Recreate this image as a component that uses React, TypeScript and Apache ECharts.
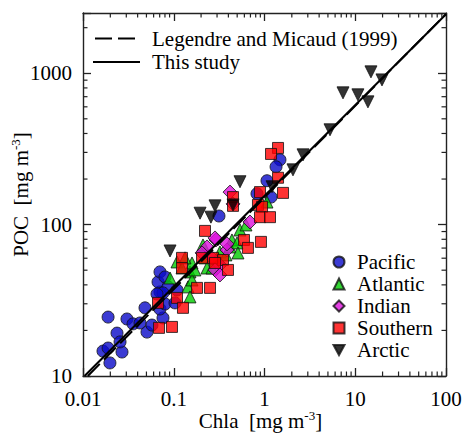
import React, { useEffect, useRef } from "react";
import * as echarts from "echarts";

// ---- data (Chla [mg m-3], POC [mg m-3]) ----
const pacific: [number, number][] = [
  [0.0189, 24.5], [0.0305, 23.8], [0.0237, 19.2], [0.0482, 28.2], [0.0356, 22.1],
  [0.0507, 19.5], [0.0425, 22.4], [0.0166, 14.6], [0.0189, 15.3], [0.0269, 14.4],
  [0.0198, 12.2], [0.0256, 16.8], [0.0575, 21.7], [0.0761, 24.2], [0.0705, 27.7],
  [0.0801, 29.9], [0.0705, 35.9], [0.0671, 41.8], [0.0705, 48.7], [0.0801, 45.1],
  [0.0864, 38.8], [0.0761, 35.4], [0.1086, 37.0], [0.1032, 30.4], [0.0654, 34.8],
  [0.315, 114], [1.48, 268], [1.34, 241], [1.065, 195], [0.826, 160], [1.18, 152],
];
const atlantic: [number, number][] = [
  [0.091, 44.4], [0.1086, 56.7], [0.1233, 51.7], [0.151, 48.7], [0.159, 55.8],
  [0.1435, 38.8], [0.151, 33.3], [0.159, 43.1], [0.221, 60.3], [0.2325, 51.7],
  [0.264, 51.7], [0.307, 60.3], [0.323, 66.0], [0.376, 63.1], [0.417, 71.2],
  [0.21, 73.4], [0.537, 92.2], [0.438, 79.2], [0.498, 75.7], [0.625, 99.5],
  [0.51, 65.0], [1.065, 141], [0.133, 60.3], [0.171, 50.2],
];
const indian: [number, number][] = [
  [0.417, 164], [0.45, 137], [0.692, 104], [0.292, 79.2], [0.2325, 71.2],
  [0.205, 65.0], [0.264, 60.3], [0.323, 54.1], [0.285, 50.2], [0.323, 46.5],
  [0.386, 68.0], [0.285, 81.7], [0.386, 74.6],
];
const southern: [number, number][] = [
  [0.0671, 30.4], [0.0956, 21.1], [0.0688, 20.8], [0.1233, 60.3], [0.1233, 51.7],
  [0.1086, 32.8], [0.1264, 28.2], [0.1805, 38.2], [0.251, 38.2], [0.205, 60.3],
  [0.271, 60.3], [0.349, 58.4], [0.221, 90.9], [0.396, 50.2], [0.285, 55.8],
  [1.41, 321], [1.18, 293], [1.41, 204], [1.6, 162], [0.892, 164],
  [0.847, 135], [0.939, 131], [0.892, 112], [1.15, 112], [0.45, 152],
  [0.45, 133], [0.594, 79.2], [0.657, 70.2], [0.914, 76.9],
];
const arctic: [number, number][] = [
  [0.091, 67], [0.195, 119], [0.257, 112], [0.285, 133], [0.45, 135],
  [0.537, 192], [1.21, 178], [2.06, 230], [2.66, 289], [5.27, 423],
  [7.33, 742], [10.7, 720], [13.8, 647], [14.9, 1021], [19.7, 904],
];

// regression lines: end points
const thisStudyLine: [number, number][] = [[0.0104, 10], [100, 2450]];
const legendreLine: [number, number][] = [[0.0113, 10], [100, 2460]];

// axes
const xRange = [0.01, 100];
const yRange = [10, 2500];
const xMinorTicks = [
  0.02, 0.03, 0.04, 0.05, 0.06, 0.07, 0.08, 0.09,
  0.2, 0.3, 0.4, 0.5, 0.6, 0.7, 0.8, 0.9,
  2, 3, 4, 5, 6, 7, 8, 9,
  20, 30, 40, 50, 60, 70, 80, 90,
];
const yMinorTicks = [20, 30, 40, 50, 60, 70, 80, 90, 200, 300, 400, 500, 600, 700, 800, 900, 2000];

const seriesNames = ["Pacific", "Atlantic", "Indian", "Southern", "Arctic"];
const lineNames = ["Legendre and Micaud (1999)", "This study"];

const FONT = "Liberation Serif";
const AX = "#222";

function isDecade(v: number) {
  const l = Math.log10(v);
  return Math.abs(l - Math.round(l)) < 1e-6;
}
function fmt(v: number) {
  return isDecade(v) ? String(+Number(v).toPrecision(3)) : "";
}

export default function App() {
  const ref = useRef<HTMLDivElement>(null);
  useEffect(() => {
    if (!ref.current) return;
    const chart = echarts.init(ref.current, undefined, { renderer: "svg" });
    const border = { borderColor: "#111", borderWidth: 1 };
    const minorData: number[][] = [
      ...xMinorTicks.map((v) => [v, 100, 0]),
      ...yMinorTicks.map((v) => [1, v, 1]),
    ];
    const baseAxis = {
      type: "log" as const,
      logBase: 10,
      axisLine: { show: true, lineStyle: { color: AX, width: 1.4 } },
      axisTick: { show: true, inside: true, length: 8, lineStyle: { color: AX, width: 1.3 } },
      splitLine: { show: false },
      minorTick: { show: false },
    };
    const labelStyle = { fontFamily: FONT, fontSize: 21, color: "#000" };
    const nameRich = {
      a: { fontFamily: FONT, fontSize: 21, color: "#000" },
      s: { fontFamily: FONT, fontSize: 13, color: "#000", verticalAlign: "top", padding: [0, 0, 10, 0] },
    };
    chart.setOption({
      animation: false,
      backgroundColor: "#fff",
      grid: { left: 83, right: 16, top: 13, bottom: 59, containLabel: false, outerBoundsMode: "none" },
      xAxis: [
        {
          ...baseAxis,
          min: xRange[0],
          max: xRange[1],
          position: "bottom",
          axisLabel: { ...labelStyle, margin: 12, formatter: fmt },
          name: "{a|Chla  [mg m}{s|-3}{a|]}",
          nameLocation: "middle",
          nameGap: 33,
          nameMoveOverlap: false,
          nameTextStyle: { rich: nameRich, padding: [0, 8, 0, 0] },
        },
        {
          ...baseAxis,
          min: xRange[0],
          max: xRange[1],
          position: "top",
          axisLabel: { show: false },
        },
      ],
      yAxis: [
        {
          ...baseAxis,
          min: yRange[0],
          max: yRange[1],
          position: "left",
          axisLabel: { ...labelStyle, margin: 11, formatter: fmt },
          name: "{a|POC  [mg m}{s|-3}{a|]}",
          nameLocation: "middle",
          nameGap: 51,
          nameMoveOverlap: false,
          nameRotate: 90,
          nameTextStyle: { rich: nameRich },
        },
        {
          ...baseAxis,
          min: yRange[0],
          max: yRange[1],
          position: "right",
          axisLabel: { show: false },
        },
      ],
      legend: [
        {
          data: [
            { name: seriesNames[0] },
            { name: seriesNames[1] },
            { name: seriesNames[2] },
            { name: seriesNames[3] },
            { name: seriesNames[4], icon: "path://M0,0L12,0L6,11Z" },
          ],
          orient: "vertical",
          left: 332.5,
          top: 251.5,
          padding: 0,
          itemWidth: 11,
          itemHeight: 11,
          itemGap: 1,
          selectedMode: false,
          textStyle: { fontFamily: FONT, fontSize: 21, color: "#000", padding: [0, 0, 0, 7.5] },
        },
      ],
      graphic: [
        {
          type: "line",
          shape: { x1: 95, y1: 38.5, x2: 139, y2: 38.5 },
          style: { stroke: "#000", lineWidth: 2, lineDash: [17, 6] },
        },
        {
          type: "line",
          shape: { x1: 93, y1: 62, x2: 140, y2: 62 },
          style: { stroke: "#000", lineWidth: 2 },
        },
        {
          type: "text",
          x: 152,
          y: 39,
          style: { text: lineNames[0], font: `21px "${FONT}"`, fill: "#000", verticalAlign: "middle" },
        },
        {
          type: "text",
          x: 152,
          y: 62,
          style: { text: lineNames[1], font: `21px "${FONT}"`, fill: "#000", verticalAlign: "middle" },
        },
      ],
      series: [
        {
          type: "custom",
          name: "minorTicks",
          silent: true,
          xAxisIndex: 0,
          yAxisIndex: 0,
          data: minorData,
          z: 5,
          renderItem: (params: any, api: any) => {
            const cs = params.coordSys;
            const kind = api.value(2);
            const L = 4.5;
            const st = { stroke: AX, lineWidth: 1.2 };
            if (kind === 0) {
              const x = api.coord([api.value(0), 100])[0];
              const yb = cs.y + cs.height;
              return {
                type: "group",
                children: [
                  { type: "line", shape: { x1: x, y1: yb, x2: x, y2: yb - L }, style: st },
                  { type: "line", shape: { x1: x, y1: cs.y, x2: x, y2: cs.y + L }, style: st },
                ],
              };
            }
            const y = api.coord([1, api.value(1)])[1];
            const xr = cs.x + cs.width;
            return {
              type: "group",
              children: [
                { type: "line", shape: { x1: cs.x, y1: y, x2: cs.x + L, y2: y }, style: st },
                { type: "line", shape: { x1: xr, y1: y, x2: xr - L, y2: y }, style: st },
              ],
            };
          },
        },
        {
          name: "Pacific",
          type: "scatter",
          data: pacific,
          symbol: "circle",
          symbolSize: 12,
          itemStyle: { color: "#0a0ac8", ...border },
        },
        {
          name: "Atlantic",
          type: "scatter",
          data: atlantic,
          symbol: "triangle",
          symbolSize: 12,
          itemStyle: { color: "#00CC00", ...border },
        },
        {
          name: "Indian",
          type: "scatter",
          data: indian,
          symbol: "diamond",
          symbolSize: 14,
          itemStyle: { color: "#DD11DD", ...border },
        },
        {
          name: "Southern",
          type: "scatter",
          data: southern,
          symbol: "rect",
          symbolSize: 11,
          itemStyle: { color: "#FF0000", ...border },
        },
        {
          name: "Arctic",
          type: "scatter",
          data: arctic,
          symbol: "triangle",
          symbolRotate: 180,
          symbolSize: 12,
          itemStyle: { color: "#000", ...border },
        },
        {
          name: lineNames[0],
          type: "line",
          data: legendreLine,
          symbol: "none",
          z: 6,
          lineStyle: { color: "#000", width: 2, type: [17, 6] },
        },
        {
          name: lineNames[1],
          type: "line",
          data: thisStudyLine,
          symbol: "none",
          z: 6,
          lineStyle: { color: "#000", width: 2 },
        },
      ],
    });
    return () => chart.dispose();
  }, []);
  return (
    <div
      ref={ref}
      style={{ position: "fixed", left: 0, top: 0, width: 462, height: 435, background: "#fff" }}
    />
  );
}
